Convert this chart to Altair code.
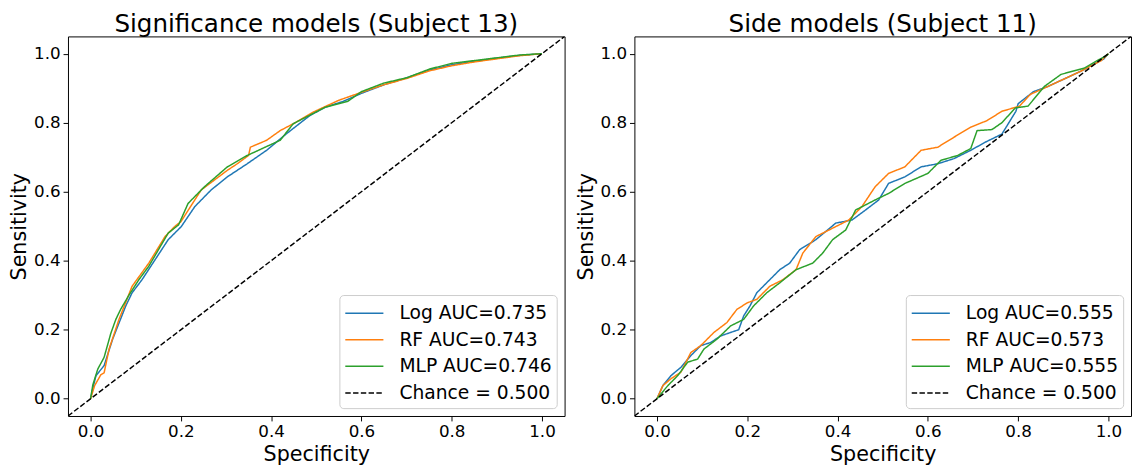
import altair as alt
import pandas as pd

# ---------------- data ----------------
TITLES = ["Significance models (Subject 13)", "Side models (Subject 11)"]
LABELS_LEFT = ["Log AUC=0.735", "RF AUC=0.743", "MLP AUC=0.746", "Chance = 0.500"]
LABELS_RIGHT = ["Log AUC=0.555", "RF AUC=0.573", "MLP AUC=0.555", "Chance = 0.500"]
COLORS = ["#1f77b4", "#ff7f0e", "#2ca02c", "#000000"]
TICKS = [0.0, 0.2, 0.4, 0.6, 0.8, 1.0]

CHANCE_X = [-0.05, 1.05]
CHANCE_Y = [-0.05, 1.05]

# Left panel (Significance models, Subject 13)
LOG_L_X = [0, 0.005, 0.012, 0.03, 0.049, 0.078, 0.092, 0.114, 0.143, 0.172, 0.201, 0.231, 0.267, 0.303,
           0.347, 0.39, 0.434, 0.485, 0.52, 0.56, 0.6, 0.65, 0.7, 0.75, 0.8, 0.85, 0.9, 0.95, 1.0]
LOG_L_Y = [0, 0.03, 0.067, 0.096, 0.173, 0.269, 0.307, 0.345, 0.403, 0.461, 0.499, 0.557, 0.605, 0.643,
           0.681, 0.72, 0.768, 0.82, 0.845, 0.862, 0.885, 0.91, 0.93, 0.952, 0.968, 0.978, 0.987, 0.995, 1.0]
RF_L_X = [0, 0.009, 0.023, 0.03, 0.041, 0.063, 0.092, 0.129, 0.165, 0.187, 0.2, 0.245, 0.303, 0.325,
          0.35, 0.354, 0.39, 0.42, 0.449, 0.492, 0.55, 0.6, 0.65, 0.7, 0.75, 0.8, 0.85, 0.9, 0.95, 1.0]
RF_L_Y = [0, 0.038, 0.07, 0.075, 0.144, 0.23, 0.326, 0.393, 0.47, 0.50, 0.513, 0.605, 0.662, 0.681,
          0.705, 0.729, 0.749, 0.777, 0.797, 0.83, 0.865, 0.888, 0.91, 0.928, 0.95, 0.965, 0.976, 0.985, 0.994, 1.0]
MLP_L_X = [0, 0.005, 0.016, 0.03, 0.045, 0.056, 0.067, 0.085, 0.107, 0.129, 0.154, 0.172, 0.195, 0.216,
           0.252, 0.303, 0.347, 0.42, 0.449, 0.52, 0.57, 0.60, 0.65, 0.70, 0.75, 0.80, 0.85, 0.90, 0.95, 1.0]
MLP_L_Y = [0, 0.04, 0.086, 0.12, 0.19, 0.23, 0.26, 0.30, 0.345, 0.384, 0.44, 0.48, 0.504, 0.566,
           0.614, 0.672, 0.705, 0.749, 0.797, 0.845, 0.862, 0.89, 0.915, 0.93, 0.955, 0.972, 0.98, 0.988, 0.996, 1.0]

# Right panel (Side models, Subject 11)
LOG_R_X = [0, 0.013, 0.031, 0.053, 0.075, 0.097, 0.119, 0.141, 0.163, 0.181, 0.192, 0.206, 0.221, 0.243,
           0.272, 0.294, 0.316, 0.352, 0.396, 0.432, 0.462, 0.491, 0.513, 0.549, 0.585, 0.622, 0.658, 0.695,
           0.728, 0.764, 0.795, 0.80, 0.834, 0.866, 0.937, 0.99, 1.0]
LOG_R_Y = [0, 0.038, 0.067, 0.091, 0.125, 0.154, 0.163, 0.182, 0.192, 0.2, 0.24, 0.269, 0.307, 0.336,
           0.374, 0.393, 0.432, 0.461, 0.509, 0.518, 0.547, 0.576, 0.624, 0.643, 0.672, 0.681, 0.696, 0.72,
           0.744, 0.767, 0.833, 0.855, 0.89, 0.905, 0.948, 0.985, 1.0]
RF_R_X = [0, 0.013, 0.031, 0.053, 0.075, 0.097, 0.126, 0.155, 0.177, 0.2, 0.221, 0.25, 0.279, 0.308,
          0.323, 0.352, 0.381, 0.425, 0.454, 0.483, 0.513, 0.549, 0.585, 0.622, 0.658, 0.695, 0.731, 0.764,
          0.803, 0.827, 0.866, 0.937, 0.984, 1.0]
RF_R_Y = [0, 0.038, 0.058, 0.077, 0.134, 0.154, 0.192, 0.221, 0.259, 0.278, 0.288, 0.326, 0.345, 0.374,
          0.422, 0.47, 0.489, 0.518, 0.557, 0.614, 0.653, 0.672, 0.72, 0.729, 0.758, 0.787, 0.806, 0.833,
          0.848, 0.882, 0.905, 0.948, 0.98, 1.0]
MLP_R_X = [0, 0.024, 0.046, 0.068, 0.09, 0.104, 0.133, 0.148, 0.163, 0.192, 0.214, 0.243, 0.272, 0.308,
           0.345, 0.367, 0.389, 0.418, 0.44, 0.483, 0.513, 0.549, 0.6, 0.629, 0.666, 0.695, 0.709, 0.742,
           0.764, 0.794, 0.822, 0.858, 0.895, 0.946, 0.997, 1.0]
MLP_R_Y = [0, 0.038, 0.067, 0.106, 0.115, 0.144, 0.173, 0.192, 0.211, 0.23, 0.269, 0.307, 0.336, 0.374,
           0.393, 0.422, 0.461, 0.489, 0.547, 0.576, 0.595, 0.624, 0.653, 0.691, 0.705, 0.725, 0.777, 0.78,
           0.80, 0.843, 0.848, 0.905, 0.94, 0.958, 0.996, 1.0]

LEFT = [(LOG_L_X, LOG_L_Y), (RF_L_X, RF_L_Y), (MLP_L_X, MLP_L_Y), (CHANCE_X, CHANCE_Y)]
RIGHT = [(LOG_R_X, LOG_R_Y), (RF_R_X, RF_R_Y), (MLP_R_X, MLP_R_Y), (CHANCE_X, CHANCE_Y)]

PANEL_W = 505
PANEL_H = 386
FONT = "DejaVu Sans"


def panel(title, labels, curves):
    rows = []
    for k, (lab, (xs, ys)) in enumerate(zip(labels, curves)):
        for i, (xv, yv) in enumerate(zip(xs, ys)):
            rows.append({"x": xv, "y": yv, "series": lab, "k": k, "i": i})
    df = pd.DataFrame(rows)
    leg = alt.Legend(
        title=None,
        orient="bottom-right",
        offset=8,
        padding=5,
        fillColor="rgba(255,255,255,0.8)",
        strokeColor="#cccccc",
        cornerRadius=4,
        labelFontSize=19,
        labelFont=FONT,
        labelColor="black",
        symbolType="M-1,0H2.1",
        symbolSize=625,
        symbolStrokeWidth=1.5,
        labelOffset=29,
        rowPadding=3,
    )
    return (
        alt.Chart(df, title=alt.TitleParams(title, fontSize=25, fontWeight="normal",
                                             font=FONT, color="black", offset=-1))
        .mark_line(strokeWidth=1.5, clip=True)
        .encode(
            x=alt.X("x:Q", title="Specificity",
                    scale=alt.Scale(domain=[-0.05, 1.05], nice=False, zero=False),
                    axis=alt.Axis(values=TICKS, format=".1f")),
            y=alt.Y("y:Q", title="Sensitivity",
                    scale=alt.Scale(domain=[-0.05, 1.05], nice=False, zero=False),
                    axis=alt.Axis(values=TICKS, format=".1f")),
            color=alt.Color("series:N", scale=alt.Scale(domain=labels, range=COLORS), legend=leg),
            strokeDash=alt.StrokeDash("series:N",
                                      scale=alt.Scale(domain=labels,
                                                      range=[[1, 0], [1, 0], [1, 0], [5.5, 2.4]]),
                                      legend=leg),
            detail="k:N",
            order="i:Q",
        )
        .properties(width=PANEL_W, height=PANEL_H)
    )


chart = (
    alt.hconcat(panel(TITLES[0], LABELS_LEFT, LEFT), panel(TITLES[1], LABELS_RIGHT, RIGHT), spacing=9)
    .resolve_scale(color="independent", strokeDash="independent")
    .properties(padding=0)
    .configure(font=FONT)
    .configure_view(stroke="black", strokeWidth=1)
    .configure_axis(
        grid=False,
        domain=False,
        tickColor="black",
        tickSize=5,
        tickWidth=1,
        labelFontSize=17,
        labelColor="black",
        labelFont=FONT,
        labelPadding=3,
        titleFontSize=21,
        titleFontWeight="normal",
        titleColor="black",
        titleFont=FONT,
        titlePadding=4,
    )
)

chart.save("out.html", embed_options={"renderer": "svg", "actions": False})
